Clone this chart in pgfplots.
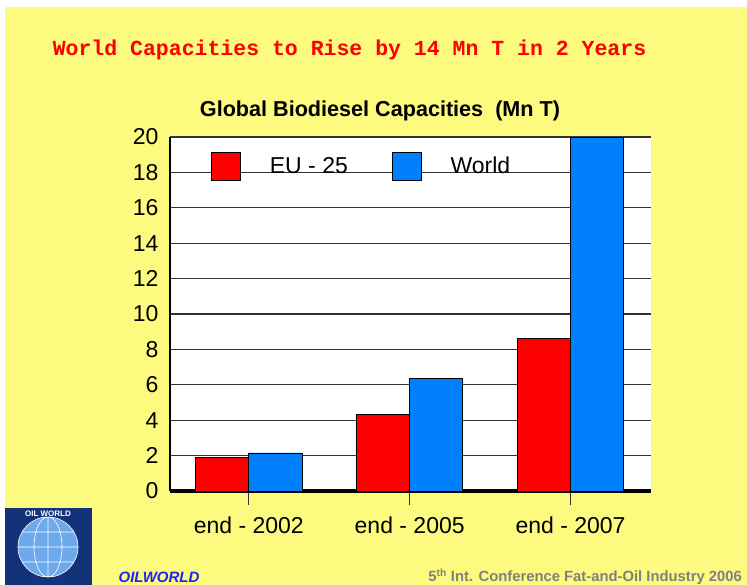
\documentclass[border=0pt]{standalone}
\usepackage{pgfplots}
\pgfplotsset{compat=1.18}
\usepackage{fontspec}
\setmainfont{Liberation Sans}
\newfontfamily\mono{Liberation Mono}
\definecolor{bgy}{RGB}{252,250,127}
\definecolor{eured}{RGB}{255,0,0}
\definecolor{wblue}{RGB}{0,128,255}
\definecolor{ftgray}{RGB}{128,128,128}
\definecolor{owblue}{RGB}{32,32,255}
\definecolor{logob}{RGB}{20,50,120}
\definecolor{globe}{RGB}{110,170,235}
\begin{document}
\begin{tikzpicture}
\path[use as bounding box] (0bp,0bp) rectangle (747bp,585bp);
\fill[white] (0bp,0bp) rectangle (747bp,585bp);
\fill[bgy] (5bp,0bp) rectangle (747bp,578bp);
% titles
\node[anchor=center, text=eured, inner sep=0pt, font=\mono\bfseries\fontsize{21.5bp}{24bp}\selectfont] at (349.5bp,535bp) {World Capacities to Rise by 14 Mn T in 2 Years};
\node[anchor=center, inner sep=0pt, font=\bfseries\fontsize{21.6bp}{24bp}\selectfont] at (380bp,474bp) {Global Biodiesel Capacities\ \ (Mn T)};
% footer
\node[anchor=center, inner sep=0pt, text=owblue, font=\bfseries\itshape\fontsize{15bp}{18bp}\selectfont] at (159bp,8bp) {OILWORLD};
\node[anchor=east, inner sep=0pt, text=ftgray, font=\bfseries\fontsize{14.8bp}{17bp}\selectfont] at (742bp,8bp) {5\textsuperscript{th} Int. Conference Fat-and-Oil Industry 2006};
% logo
\fill[logob] (5bp,0bp) rectangle (92bp,77bp);
\fill[globe] (48bp,38bp) circle (30bp);
\draw[white, line width=0.6bp] (48bp,38bp) circle (30bp) (18bp,38bp) -- (78bp,38bp) (48bp,8bp) -- (48bp,68bp) (48bp,38bp) ellipse (14bp and 30bp) (22bp,53bp) -- (74bp,53bp) (22bp,23bp) -- (74bp,23bp);
\node[white, font=\bfseries\fontsize{8bp}{9bp}\selectfont, inner sep=0pt] at (48bp,71bp) {OIL WORLD};
\begin{axis}[
  at={(170bp,94bp)}, anchor=south west,
  scale only axis, width=481bp, height=354bp,
  xmin=-0.49, xmax=2.5, ymin=0, ymax=20,
  axis background/.style={fill=white},
  axis lines=left, axis line style={-},
  x axis line style={line width=3bp},
  y axis line style={line width=2.5bp},
  ybar=0pt, bar width=0.33,
  xtick={0,1,2}, xticklabels={end - 2002, end - 2005, end - 2007},
  ytick={0,2,...,20},
  ymajorgrids,
  major grid style={line width=1.3bp, draw=black!80},
  tick label style={font=\fontsize{23bp}{27bp}\selectfont},
  yticklabel style={xshift=6bp},
  xticklabel style={yshift=-8bp},
  /pgf/number format/assume math mode=true,
  ytick style={draw=none},
  xtick style={line width=1.2bp, draw=black!80},
  major tick length=14bp, tick align=outside,
  legend columns=2,
  legend style={draw=none, fill=none, inner sep=0pt,
    at={(axis description cs:0.085,0.918)}, anchor=west,
    font=\fontsize{23bp}{27bp}\selectfont,
    /tikz/every odd column/.append style={column sep=27bp},
    /tikz/every even column/.append style={column sep=42bp}},
]
\addplot[fill=eured, draw=black, line width=0.8bp,
  legend image code/.code={\draw[fill=eured, draw=black, line width=0.8bp] (0bp,-14bp) rectangle (29bp,14bp);}]
  coordinates {(0,1.9) (1,4.3) (2,8.6)};
\addplot[fill=wblue, draw=black, line width=0.8bp,
  legend image code/.code={\draw[fill=wblue, draw=black, line width=0.8bp] (0bp,-14bp) rectangle (29bp,14bp);}]
  coordinates {(0,2.15) (1,6.35) (2,20)};
\legend{EU - 25, World}
\end{axis}
\end{tikzpicture}
\end{document}
